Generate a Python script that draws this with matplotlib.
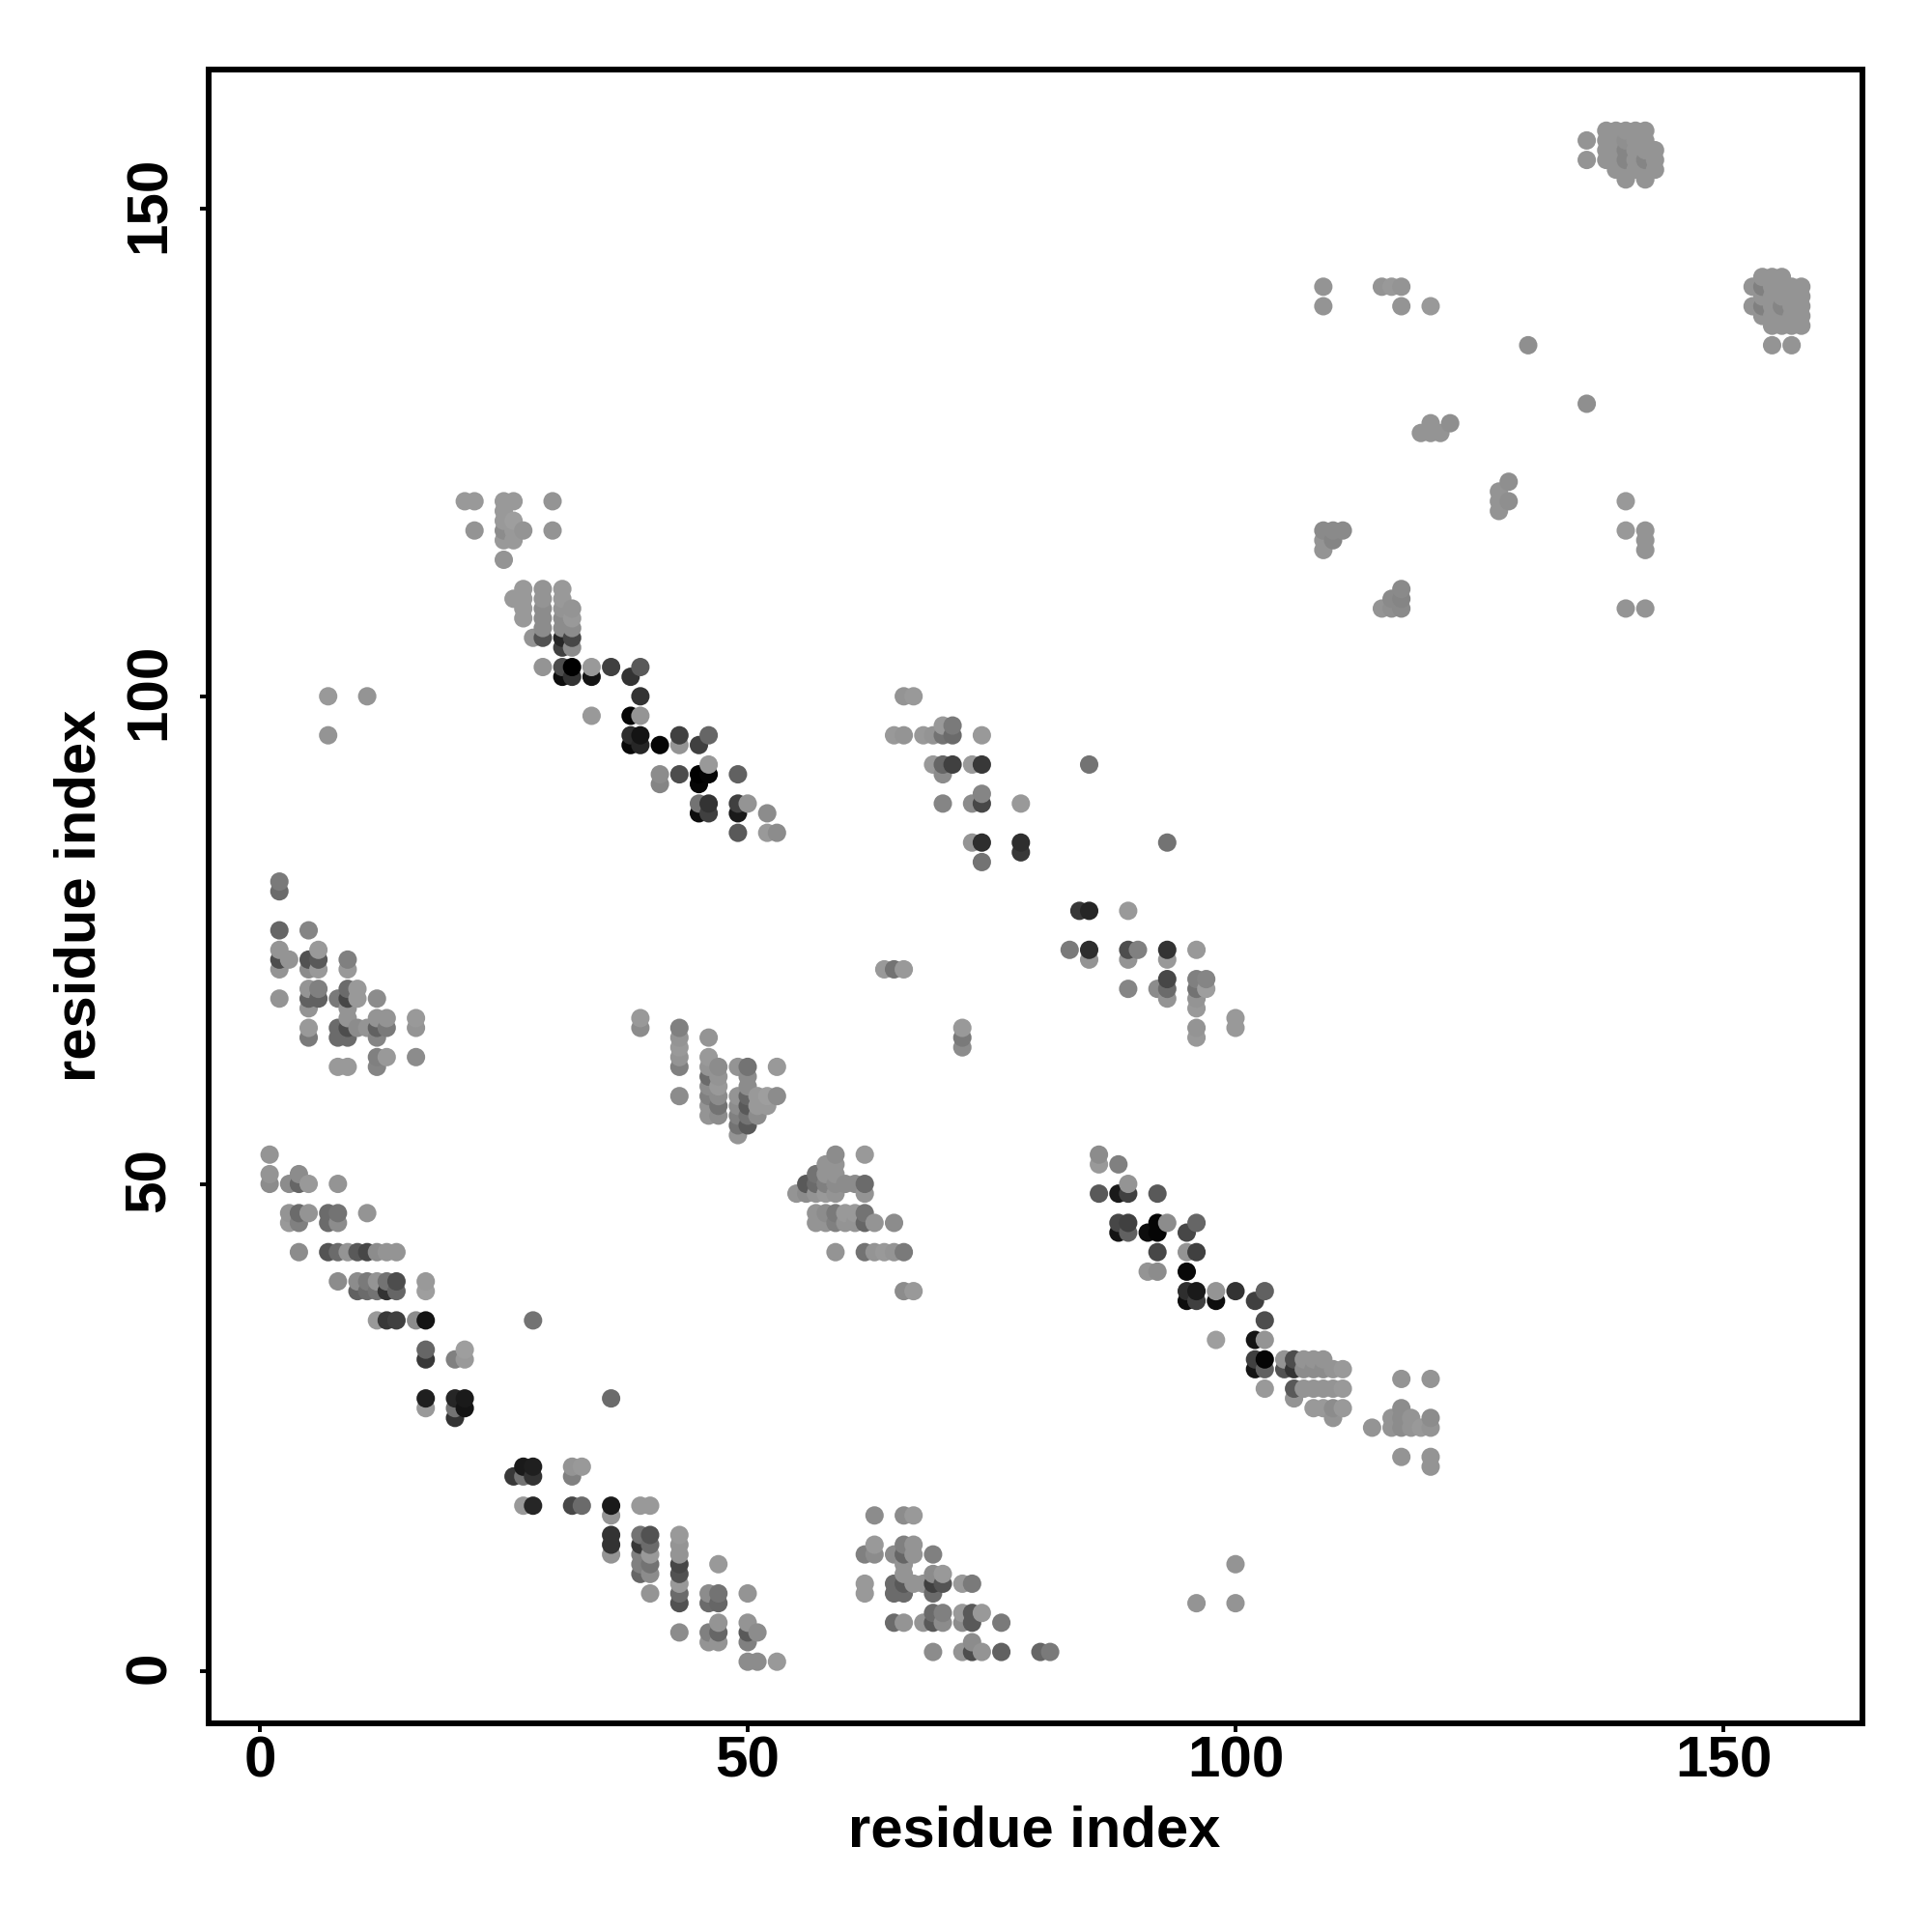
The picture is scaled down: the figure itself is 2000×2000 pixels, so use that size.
#!/usr/bin/env python
# coding: utf-8

import numpy as np
import matplotlib
matplotlib.use("Agg")
import matplotlib.pyplot as plt
from matplotlib.transforms import Affine2D

    #========= DATA ======================================================#

TICKS = [0, 50, 100, 150]
LABEL = "residue index"

# one line per row of the map, y is given by the row
low_left_x = [1,
    1, 4,
    1, 3, 4, 5, 8,
    3, 4, 5, 7, 8, 11,
    3, 4, 7, 8,
    4, 7, 8, 9, 10, 11, 12, 13, 14,
    8, 10, 11, 12, 13, 14, 17,
    10, 11, 12, 13, 14, 17,
    12, 13, 14, 16, 17, 28,
    17, 21,
    17, 20, 21,
    17, 20, 21, 36,
    17, 20, 21,
    20,
    27, 28, 32, 33,
    26, 27, 28, 32,
    27, 28, 32, 33, 36, 39, 40,
    36,
    36, 39, 40, 43,
    36, 39, 40, 43,
    36, 39, 40, 43,
    39, 40, 43, 47,
    39, 40, 43,
    43,
    40, 43, 46, 47, 50,
    43, 46, 47,
    47, 50,
    43, 46, 47, 50, 51,
    46, 47, 50,
    50, 51, 53]
low_left_y = [53,
    51, 51,
    50, 50, 50, 50, 50,
    47, 47, 47, 47, 47, 47,
    46, 46, 46, 46,
    43, 43, 43, 43, 43, 43, 43, 43, 43,
    40, 40, 40, 40, 40, 40, 40,
    39, 39, 39, 39, 39, 39,
    36, 36, 36, 36, 36, 36,
    33, 33,
    32, 32, 32,
    28, 28, 28, 28,
    27, 27, 27,
    26,
    21, 21, 21, 21,
    20, 20, 20, 20,
    17, 17, 17, 17, 17, 17, 17,
    16,
    14, 14, 14, 14,
    13, 13, 13, 13,
    12, 12, 12, 12,
    11, 11, 11, 11,
    10, 10, 10,
    9,
    8, 8, 8, 8, 8,
    7, 7, 7,
    5, 5,
    4, 4, 4, 4, 4,
    3, 3, 3,
    1, 1, 1]
low_left_g = [.58,
    .58, .55,
    .55, .55, .40, .60, .58,
    .58, .42, .58, .42, .45, .58,
    .60, .50, .42, .55,
    .55, .33, .42, .58, .35, .28, .55, .58, .58,
    .55, .55, .48, .58, .45, .30, .60,
    .38, .42, .45, .20, .40, .62,
    .60, .22, .25, .55, .08, .45,
    .40, .62,
    .22, .50, .60,
    .12, .15, .10, .42,
    .60, .45, .08,
    .20,
    .10, .12, .58, .60,
    .22, .45, .20, .50,
    .60, .15, .28, .42, .10, .60, .60,
    .58,
    .20, .45, .32, .60,
    .20, .22, .42, .58,
    .58, .50, .60, .58,
    .50, .45, .28, .60,
    .40, .55, .32,
    .60,
    .58, .42, .55, .45, .58,
    .32, .42, .40,
    .58, .58,
    .55, .50, .40, .35, .55,
    .58, .58, .50,
    .55, .55, .60]

low_right_x = [59, 62, 86,
    58, 59, 86, 88,
    57, 58, 59,
    56, 57, 58, 59, 60, 61, 62, 89,
    55, 56, 57, 58, 59, 62, 86, 88, 89, 92,
    57, 58, 59, 60, 61, 62,
    57, 58, 59, 60, 61, 62, 63, 65, 88, 89, 92, 93, 96,
    88, 89, 91, 92, 95,
    59, 62, 63, 64, 65, 66, 92, 95, 96,
    91, 92, 95,
    66, 67, 95, 96, 98, 100, 103,
    95, 96, 98, 102,
    103,
    98, 102, 103,
    102, 103, 105, 106, 107, 108, 109,
    102, 103, 105, 106, 107, 108, 109, 110, 111,
    117, 120,
    103, 106, 107, 108, 109, 110, 111,
    106,
    108, 109, 110, 111, 117,
    110, 116, 117, 118, 120,
    114, 116, 117, 118, 119, 120,
    117, 120,
    120]
low_right_y = [53, 53, 53,
    52, 52, 52, 52,
    51, 51, 51,
    50, 50, 50, 50, 50, 50, 50, 50,
    49, 49, 49, 49, 49, 49, 49, 49, 49, 49,
    47, 47, 47, 47, 47, 47,
    46, 46, 46, 46, 46, 46, 46, 46, 46, 46, 46, 46, 46,
    45, 45, 45, 45, 45,
    43, 43, 43, 43, 43, 43, 43, 43, 43,
    41, 41, 41,
    39, 39, 39, 39, 39, 39, 39,
    38, 38, 38, 38,
    36,
    34, 34, 34,
    32, 32, 32, 32, 32, 32, 32,
    31, 31, 31, 31, 31, 31, 31, 31, 31,
    30, 30,
    29, 29, 29, 29, 29, 29, 29,
    28,
    27, 27, 27, 27, 27,
    26, 26, 26, 26, 26,
    25, 25, 25, 25, 25, 25,
    22, 22,
    21]
low_right_g = [.55, .60, .55,
    .58, .58, .60, .50,
    .45, .58, .58,
    .35, .42, .50, .55, .55, .55, .42, .58,
    .58, .55, .58, .60, .58, .58, .35, .10, .25, .35,
    .58, .55, .48, .60, .60, .45,
    .58, .58, .50, .58, .58, .40, .58, .55, .28, .25, .02, .55, .40,
    .08, .38, .05, .02, .28,
    .58, .45, .58, .60, .58, .48, .28, .58, .25,
    .58, .55, .03,
    .55, .60, .18, .10, .58, .20, .38,
    .05, .25, .05, .25,
    .30,
    .62, .08, .58,
    .25, .02, .58, .30, .58, .58, .58,
    .08, .38, .32, .20, .55, .55, .55, .58, .60,
    .58, .58,
    .60, .35, .58, .58, .58, .58, .60,
    .58,
    .60, .60, .55, .60, .55,
    .58, .58, .55, .58, .55,
    .58, .58, .55, .58, .60, .58,
    .58, .58,
    .58]

low_mid_x = [63, 66, 67,
    63, 66, 67,
    62, 63, 65, 66, 67, 69,
    66, 100,
    66, 69, 70,
    62, 65, 66, 67, 68, 69, 70, 72, 73,
    62, 65, 66, 69,
    96, 100,
    69, 70, 72, 73, 74,
    65, 66, 68, 69, 70, 72, 73, 76,
    73,
    69, 72, 73, 74, 76, 80, 81]
low_mid_y = [16, 16, 16,
    13, 13, 13,
    12, 12, 12, 12, 12, 12,
    11, 11,
    10, 10, 10,
    9, 9, 9, 9, 9, 9, 9, 9, 9,
    8, 8, 8, 8,
    7, 7,
    6, 6, 6, 6, 6,
    5, 5, 5, 5, 5, 5, 5, 5,
    3,
    2, 2, 2, 2, 2, 2, 2]
low_mid_g = [.55, .55, .60,
    .60, .50, .58,
    .50, .55, .55, .40, .58, .50,
    .58, .58,
    .58, .55, .60,
    .60, .42, .35, .58, .58, .25, .33, .60, .48,
    .60, .42, .42, .42,
    .58, .58,
    .42, .50, .60, .35, .60,
    .42, .58, .58, .35, .55, .55, .35, .48,
    .55,
    .55, .58, .30, .58, .38, .40, .48]

band_x = [21, 22, 25, 26, 30,
    25,
    25, 26,
    22, 25, 26, 27, 30,
    25, 26,
    25,
    27, 29, 31,
    26, 27, 29, 31,
    27, 29, 31, 32,
    27, 29, 31, 32,
    29, 31, 32,
    28, 29, 31, 32,
    31, 32,
    29, 31, 32, 34, 36, 39,
    31, 32, 34, 38,
    7, 11, 39,
    34, 38, 39,
    7, 38, 39, 43, 46,
    38, 39, 41, 43, 45,
    46,
    41, 43, 45, 46, 49,
    41, 45,
    45, 46, 49, 50,
    45, 46, 49, 52,
    49, 52, 53]
band_y = [120, 120, 120, 120, 120,
    119,
    118, 118,
    117, 117, 117, 117, 117,
    116, 116,
    114,
    111, 111, 111,
    110, 110, 110, 110,
    109, 109, 109, 109,
    108, 108, 108, 108,
    107, 107, 107,
    106, 106, 106, 106,
    105, 105,
    103, 103, 103, 103, 103, 103,
    102, 102, 102, 102,
    100, 100, 100,
    98, 98, 98,
    96, 96, 96, 96, 96,
    95, 95, 95, 95, 95,
    93,
    92, 92, 92, 92, 92,
    91, 91,
    89, 89, 89, 89,
    88, 88, 88, 88,
    86, 86, 86]
band_g = [.60, .60, .60, .60, .58,
    .60,
    .60, .62,
    .58, .55, .60, .58, .58,
    .60, .60,
    .58,
    .60, .58, .60,
    .60, .60, .58, .60,
    .60, .55, .58, .58,
    .60, .55, .55, .60,
    .55, .55, .55,
    .58, .32, .15, .28,
    .25, .55,
    .58, .30, .00, .60, .25, .35,
    .05, .20, .08, .20,
    .60, .58, .20,
    .60, .02, .58,
    .58, .18, .08, .25, .40,
    .03, .15, .02, .58, .25,
    .60,
    .55, .30, .00, .02, .38,
    .52, .02,
    .45, .20, .25, .58,
    .05, .25, .10, .55,
    .35, .60, .55]

left_x = [2,
    2,
    2, 5,
    2, 6,
    2, 3, 5, 6, 9,
    2, 5, 6, 9,
    5, 6, 9, 10,
    2, 5, 6, 8, 9, 10, 12,
    5, 9,
    9, 12, 13, 16,
    5, 8, 9, 10, 11, 12, 13, 16,
    5, 8, 9, 12,
    12, 13, 16,
    8, 9, 12]
left_y = [81,
    80,
    76, 76,
    74, 74,
    73, 73, 73, 73, 73,
    72, 72, 72, 72,
    70, 70, 70, 70,
    69, 69, 69, 69, 69, 69, 69,
    68, 68,
    67, 67, 67, 67,
    66, 66, 66, 66, 66, 66, 66, 66,
    65, 65, 65, 65,
    63, 63, 63,
    62, 62, 62]
left_g = [.48,
    .42,
    .40, .52,
    .58, .60,
    .30, .58, .32, .35, .50,
    .58, .55, .60, .60,
    .58, .50, .42, .60,
    .58, .38, .38, .48, .28, .60, .55,
    .58, .58,
    .58, .58, .58, .60,
    .60, .42, .30, .55, .58, .38, .48, .58,
    .48, .42, .42, .52,
    .50, .60, .55,
    .60, .60, .52]

centre_x = [39,
    39, 43,
    43, 46,
    43,
    43, 46,
    43, 46, 47, 49, 50, 53,
    46, 47, 50,
    46, 47, 50,
    43, 46, 47, 49, 50, 51, 52, 53,
    46, 47, 49, 50, 51, 52,
    46, 47, 49, 50, 51,
    49, 50,
    49]
centre_y = [67,
    66, 66,
    65, 65,
    64,
    63, 63,
    62, 62, 62, 62, 62, 62,
    61, 61, 61,
    60, 60, 60,
    59, 59, 59, 59, 59, 59, 59, 59,
    58, 58, 58, 58, 58, 58,
    57, 57, 57, 57, 57,
    56, 56,
    55]
centre_g = [.60,
    .55, .50,
    .58, .58,
    .60,
    .58, .60,
    .50, .58, .55, .58, .45, .60,
    .42, .58, .55,
    .55, .60, .55,
    .55, .50, .55, .58, .40, .60, .62, .55,
    .58, .45, .55, .35, .60, .60,
    .58, .55, .50, .45, .55,
    .45, .35,
    .58]

upper_x = [66, 67,
    70, 71,
    65, 66, 68, 69, 70, 71, 74,
    69, 70, 71, 73, 74, 85,
    70,
    74,
    70, 73, 74, 78,
    73, 74, 78, 93,
    78,
    74,
    84, 85, 89,
    83, 85, 89, 90, 93, 96,
    85, 89, 93,
    64, 65, 66,
    93, 96, 97,
    89, 92, 93, 96, 97,
    93, 96,
    96,
    100,
    72, 96, 100,
    72, 96,
    72]
upper_y = [100, 100,
    97, 97,
    96, 96, 96, 96, 96, 96, 96,
    93, 93, 93, 93, 93, 93,
    92,
    90,
    89, 89, 89, 89,
    85, 85, 85, 85,
    84,
    83,
    78, 78, 78,
    74, 74, 74, 74, 74, 74,
    73, 73, 73,
    72, 72, 72,
    71, 71, 71,
    70, 70, 70, 70, 70,
    69, 69,
    68,
    67,
    66, 66, 66,
    65, 65,
    64]
upper_g = [.58, .60,
    .60, .48,
    .60, .58, .60, .58, .45, .42, .60,
    .60, .40, .25, .60, .22, .45,
    .55,
    .52,
    .52, .55, .28, .60,
    .58, .18, .18, .45,
    .22,
    .45,
    .22, .15, .60,
    .48, .18, .30, .50, .20, .60,
    .58, .58, .60,
    .60, .45, .60,
    .28, .50, .52,
    .52, .55, .42, .45, .62,
    .58, .58,
    .60,
    .60,
    .60, .58, .60,
    .48, .60,
    .55]

corner_x = [138, 139, 140, 141, 142,
    136, 138, 139, 140, 141, 142,
    138, 139, 140, 141, 142, 143,
    136, 138, 139, 140, 141, 142, 143,
    139, 140, 141, 142, 143,
    140, 142,
    154, 155, 156,
    109, 115, 116, 117, 153, 154, 155, 156, 157, 158,
    154, 155, 156, 157, 158,
    109, 117, 120, 153, 154, 155, 156, 157, 158,
    154, 155, 156, 157, 158,
    155, 156, 157, 158,
    130, 155, 157,
    136,
    120, 122,
    119, 120, 121,
    128,
    127,
    127, 128, 140,
    127,
    109, 110, 111, 140, 142,
    109, 110, 142,
    109, 142,
    117,
    116, 117,
    115, 116, 117, 140, 142]
corner_y = [158, 158, 158, 158, 158,
    157, 157, 157, 157, 157, 157,
    156, 156, 156, 156, 156, 156,
    155, 155, 155, 155, 155, 155, 155,
    154, 154, 154, 154, 154,
    153, 153,
    143, 143, 143,
    142, 142, 142, 142, 142, 142, 142, 142, 142, 142,
    141, 141, 141, 141, 141,
    140, 140, 140, 140, 140, 140, 140, 140, 140,
    139, 139, 139, 139, 139,
    138, 138, 138, 138,
    136, 136, 136,
    130,
    128, 128,
    127, 127, 127,
    122,
    121,
    120, 120, 120,
    119,
    117, 117, 117, 117, 117,
    116, 116, 116,
    115, 115,
    111,
    110, 110,
    109, 109, 109, 109, 109]
corner_g = [.58, .58, .58, .58, .58,
    .58, .58, .58, .56, .58, .58,
    .58, .58, .52, .58, .58, .58,
    .58, .58, .58, .52, .58, .52, .58,
    .58, .58, .58, .58, .58,
    .58, .58,
    .58, .58, .58,
    .58, .58, .60, .58, .58, .50, .58, .58, .58, .58,
    .58, .58, .58, .58, .58,
    .58, .58, .60, .58, .50, .58, .52, .58, .58,
    .58, .58, .58, .58, .58,
    .58, .58, .58, .58,
    .56, .58, .58,
    .56,
    .58, .56,
    .58, .58, .58,
    .56,
    .58,
    .58, .56, .60,
    .58,
    .54, .54, .54, .60, .58,
    .58, .52, .58,
    .58, .58,
    .54,
    .54, .52,
    .58, .56, .54, .58, .58]

    #========= FIGURE ====================================================#

xs = np.array(low_left_x + low_right_x + low_mid_x + band_x + left_x + centre_x + upper_x + corner_x)
ys = np.array(low_left_y + low_right_y + low_mid_y + band_y + left_y + centre_y + upper_y + corner_y)
gs = np.array(low_left_g + low_right_g + low_mid_g + band_g + left_g + centre_g + upper_g + corner_g)

# later columns sit on top, and the higher rows inside a column
order = np.lexsort((ys, xs))
xs, ys, gs = xs[order], ys[order], gs[order]

plt.rcParams["font.family"] = ["Liberation Sans", "DejaVu Sans"]
plt.rcParams["font.weight"] = "bold"

fig = plt.figure(figsize=(10, 10), dpi=200)
ax = fig.add_axes([216.3/2000, 1-1784/2000, 1711.7/2000, 1712/2000])
ax.scatter(xs, ys, s=47, c=[str(g) for g in gs], linewidths=0, zorder=2)
ax.set_xlim(-5.22, 164.26)
ax.set_ylim(-5.32, 164.27)
ax.set_xticks(TICKS)
ax.set_yticks(TICKS)
for spine in ax.spines.values():
    spine.set_linewidth(2.15)
ax.tick_params(axis="x", length=3.1, width=1.4, labelsize=21.7, pad=17)
ax.tick_params(axis="y", length=3.1, width=1.4, labelsize=21.7, pad=13.2)
plt.setp(ax.get_xticklabels(), va="baseline")
plt.setp(ax.get_yticklabels(), rotation=90, rotation_mode="anchor", ha="center", va="baseline")
for label in ax.get_yticklabels():
    label.set_transform(label.get_transform() + Affine2D().translate(0, 4.5))
fig.text(1071/2000, 1-1911.7/2000, LABEL, fontsize=21.5, fontweight="bold", ha="center", va="baseline")
fig.text(98.3/2000, 1-927/2000, LABEL, fontsize=21.5, fontweight="bold", ha="center", va="baseline",
         rotation=90, rotation_mode="anchor")
plt.savefig("out.png", dpi=200)
